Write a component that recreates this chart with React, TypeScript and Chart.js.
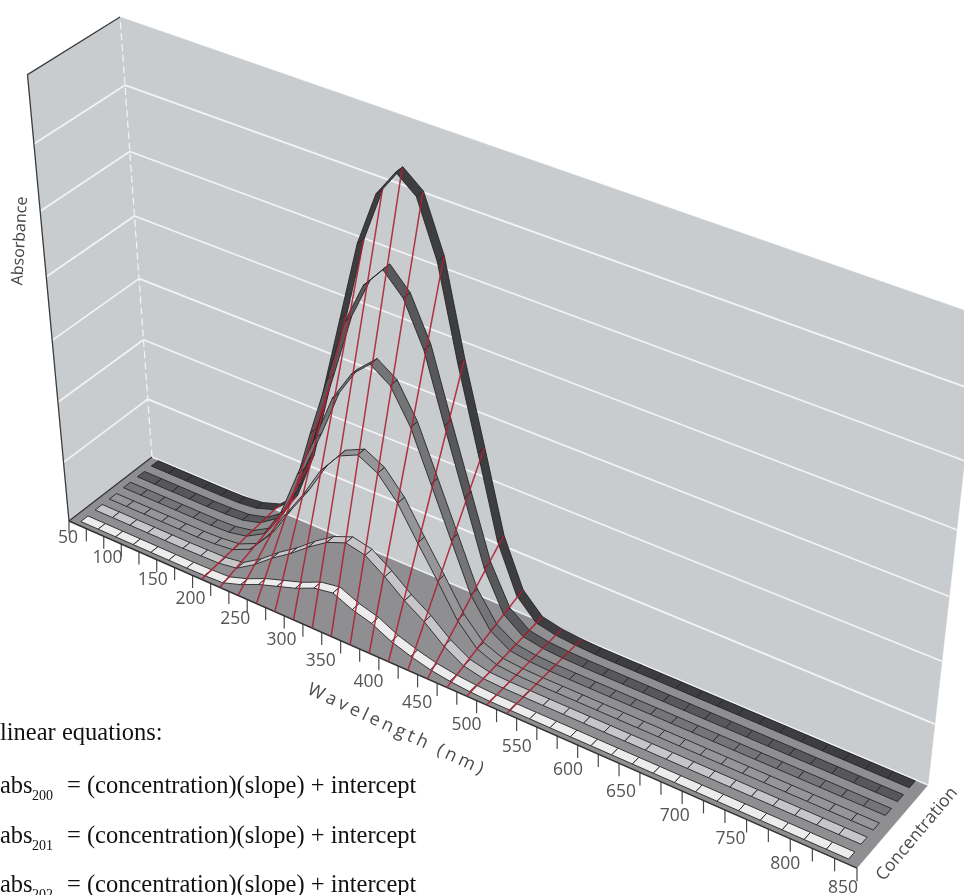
import React, { useEffect, useRef } from "react";
import { Chart, registerables } from "chart.js";

Chart.register(...registerables);

// ---------- data ----------
const wavelengths = [60,80,100,120,140,160,180,200,220,240,260,280,300,320,340,360,380,400,420,440,460,480,500,520,540,560,580,600,620,640,660,680,700,720,740,760,780,800,820,840];
const concentrations = [0.93,0.76,0.59,0.42,0.25,0.08];
const series6 = [.004,.004,.004,.004,.004,.005,.01,.025,.065,.18,.36,.54,.72,.84,.90,.865,.745,.54,.36,.175,.065,.02,.01,.006,.004,.004,.004,.004,.004,.004,.004,.004,.004,.004,.004,.004,.004,.004,.004,.004];
const series5 = [.004,.004,.004,.004,.004,.005,.008,.02,.05,.14,.29,.43,.575,.67,.72,.675,.58,.43,.285,.14,.05,.016,.008,.005,.004,.004,.004,.004,.004,.004,.004,.004,.004,.004,.004,.004,.004,.004,.004,.004];
const series4 = [.004,.004,.004,.004,.004,.004,.006,.015,.04,.11,.22,.32,.43,.50,.54,.51,.435,.325,.215,.105,.04,.012,.006,.004,.004,.004,.004,.004,.004,.004,.004,.004,.004,.004,.004,.004,.004,.004,.004,.004];
const series3 = [.003,.003,.003,.003,.003,.003,.005,.01,.03,.08,.15,.215,.29,.343,.3635,.34,.29,.217,.147,.074,.026,.008,.004,.003,.003,.003,.003,.003,.003,.003,.003,.003,.003,.003,.003,.003,.003,.003,.003,.003];
const series2 = [.003,.003,.003,.003,.003,.003,.004,.005,.012,.04,.075,.105,.14,.17,.188,.178,.147,.11,.08,.042,.015,.005,.003,.003,.003,.003,.003,.003,.003,.003,.003,.003,.003,.003,.003,.003,.003,.003,.003,.003];
const series1 = [.002,.002,.002,.002,.002,.002,.002,.003,.005,.02,.04,.055,.07,.09,.098,.078,.065,.042,.027,.015,.008,.004,.002,.002,.002,.002,.002,.002,.002,.002,.002,.002,.002,.002,.002,.002,.002,.002,.002,.002];
const allSeries = [series6,series5,series4,series3,series2,series1];
const regressionWavelengths = [200,220,240,260,280,300,320,340,360,380,400,420,440,460,480,500,520];
const tickLabels = [50,100,150,200,250,300,350,400,450,500,550,600,650,700,750,800,850];
const tickMarks = [50,70,90,110,130,150,170,190,210,230,250,270,290,310,330,350,370,390,410,430,450,470,490,510,530,550,570,590,610,630,650,670,690,710,730,750,770,790,810,830,850];
const gridLevels = [1/7,2/7,3/7,4/7,5/7,6/7];
const labelNudge = [-1,-5,-4,-11,-12,-12,-20,-20,-20,-20,-20,-20,-19,-18,-16,-16,-14];

// ---------- style / camera ----------
const WMIN = 50, WMAX = 850;
const CAMERA = [
  [682.4, 87.06, -44.1, 69],
  [240.1, -51.78, -453.4, 521],
  [-0.1232, 0.02674, -0.0938, 1],
];
const RIBBON_COLORS = ["#3e3e40","#58585a","#757577","#969698","#c6c6c8","#ececec"];
const RIBBON_DV = 0.085;
const SOLID: number[] = [3000, 0];

function project(w: number, c: number, a: number) {
  const u = (w - WMIN) / (WMAX - WMIN);
  const X = CAMERA[0][0]*u + CAMERA[0][1]*c + CAMERA[0][2]*a + CAMERA[0][3];
  const Y = CAMERA[1][0]*u + CAMERA[1][1]*c + CAMERA[1][2]*a + CAMERA[1][3];
  const W = CAMERA[2][0]*u + CAMERA[2][1]*c + CAMERA[2][2]*a + CAMERA[2][3];
  return { x: X / W, y: Y / W };
}

function line(pts: {x:number,y:number}[], color: string, width: number, dash: number[] = SOLID) {
  return { data: pts, showLine: true, borderColor: color, borderWidth: width, borderDash: dash, pointRadius: 0, fill: false, tension: 0, clip: false };
}
function polygon(pts: {x:number,y:number}[], fillColor: string, stroke: string, width: number) {
  return { ...line([...pts, pts[0]], stroke, width), polyFill: fillColor };
}

function buildDatasets() {
  const ds: any[] = [];
  // walls and floor
  ds.push(polygon([project(WMIN,1,0),project(WMAX,1,0),project(WMAX,1,1),project(WMIN,1,1)], "#c9ccce", "#c9ccce", 0.5));
  ds.push(polygon([project(WMIN,0,0),project(WMIN,1,0),project(WMIN,1,1),project(WMIN,0,1)], "#c9ccce", "#c9ccce", 0.5));
  ds.push(polygon([project(WMIN,0,0),project(WMAX,0,0),project(WMAX,1,0),project(WMIN,1,0)], "#8f8f91", "#8f8f91", 0.5));
  // gridlines
  for (const g of gridLevels) {
    ds.push(line([project(WMIN,1,g),project(WMAX,1,g)], "#f2f3f4", 1.7));
    ds.push(line([project(WMIN,0,g),project(WMIN,1,g)], "#f2f3f4", 1.7));
  }
  ds.push(line([project(WMIN,1,0),project(WMIN,1,1)], "#f4f4f4", 1.2, [7,4]));
  ds.push(line([project(WMIN,1,0),project(WMAX,1,0)], "#eef0f1", 1.6));
  // frame
  ds.push(line([project(WMIN,0,0),project(WMIN,0,1),project(WMIN,1,1)], "#3c3c3e", 1.3));
  ds.push(line([project(WMIN,0,0),project(WMIN,1,0)], "#333335", 1.2));
  // ticks: upright in the picture
  for (const t of tickMarks) {
    const top = project(t,0,0), low = project(t,0,-0.031);
    ds.push(line([top,{ x: top.x, y: low.y }], "#4a4a4c", 1.2));
  }
  ds.push(line([project(WMIN,0,0),project(WMAX,0,0)], "#333335", 1.4));
  // ribbons, back to front
  allSeries.forEach((s, k) => {
    const c = concentrations[k];
    for (let i = 0; i < wavelengths.length - 1; i++) {
      const w0 = wavelengths[i], w1 = wavelengths[i + 1];
      ds.push(polygon([
        project(w0, c - RIBBON_DV/2, s[i]),
        project(w1, c - RIBBON_DV/2, s[i+1]),
        project(w1, c + RIBBON_DV/2, s[i+1]),
        project(w0, c + RIBBON_DV/2, s[i]),
      ], RIBBON_COLORS[k], "#262628", 0.9));
    }
  });
  // regression lines
  for (const w of regressionWavelengths) {
    const a = series6[wavelengths.indexOf(w)];
    ds.push(line([project(w,0,0),project(w,0.965,a)], "rgba(172,34,52,0.9)", 1.5));
  }
  return ds.reverse(); // Chart.js paints the last dataset first
}

const polyPlugin = {
  id: "polyFill",
  beforeDatasetDraw(chart: any, args: any) {
    const ds = chart.data.datasets[args.index];
    if (!ds.polyFill) return;
    const pts = args.meta.data;
    const ctx = chart.ctx;
    ctx.save();
    ctx.beginPath();
    pts.forEach((p: any, i: number) => (i ? ctx.lineTo(p.x, p.y) : ctx.moveTo(p.x, p.y)));
    ctx.closePath();
    ctx.fillStyle = ds.polyFill;
    ctx.fill();
    ctx.restore();
  },
};

const labelPlugin = {
  id: "axisText",
  afterDatasetsDraw(chart: any) {
    const ctx = chart.ctx;
    const sx = chart.scales.x, sy = chart.scales.y;
    ctx.save();
    ctx.fillStyle = "#555557";
    ctx.font = '17.5px "Open Sans"';
    ctx.textAlign = "center";
    ctx.textBaseline = "middle";
    tickLabels.forEach((t, i) => {
      const p = project(t, 0, 0);
      const dy = i === 0 ? 17 : i === 1 ? 18 : 20;
      ctx.fillText(String(t), sx.getPixelForValue(p.x) + labelNudge[i], sy.getPixelForValue(p.y) + dy);
    });
    const rot = (text: string, x: number, y: number, deg: number, font: string, color: string, spacing = "0px") => {
      ctx.save();
      ctx.translate(x, y);
      ctx.rotate((deg * Math.PI) / 180);
      ctx.font = font;
      ctx.fillStyle = color;
      ctx.letterSpacing = spacing;
      ctx.fillText(text, 0, 0);
      ctx.restore();
    };
    rot("Absorbance", 20, 241, -87, '16px "Open Sans"', "#444446");
    rot("Concentration", 917, 834, -50, '17.5px "Open Sans"', "#4a4a4c");
    rot("Wavelength (nm)", 397, 730, 25, '18px "Open Sans"', "#4a4a4c", "3.6px");
    ctx.restore();
  },
};

const eqLines = [
  { sub: "200", base: 793 },
  { sub: "201", base: 843 },
  { sub: "202", base: 892 },
];
const serif: React.CSSProperties = {
  position: "absolute",
  fontFamily: '"Liberation Serif", serif',
  color: "#111",
  whiteSpace: "nowrap",
  lineHeight: "30px",
};

export default function App() {
  const ref = useRef<HTMLCanvasElement>(null);
  useEffect(() => {
    const chart = new Chart(ref.current as HTMLCanvasElement, {
      type: "scatter",
      data: { datasets: buildDatasets() },
      options: {
        animation: false,
        responsive: false,
        layout: { padding: 0 },
        plugins: { legend: { display: false }, tooltip: { enabled: false } },
        scales: {
          x: { type: "linear", min: 0, max: 964, display: false },
          y: { type: "linear", min: 0, max: 895, reverse: true, display: false },
        },
      },
      plugins: [polyPlugin, labelPlugin],
    } as any);
    return () => chart.destroy();
  }, []);
  return (
    <div style={{ position: "fixed", left: 0, top: 0, width: 964, height: 895, overflow: "hidden", background: "#fff" }}>
      <canvas ref={ref} width={964} height={895} style={{ position: "absolute", left: 0, top: 0, width: 964, height: 895, filter: "blur(0.45px)" }} />
      <div style={{ ...serif, left: 0, top: 740 - 23.3, fontSize: 24.5 }}>linear equations:</div>
      {eqLines.map((e) => (
        <React.Fragment key={e.sub}>
          <div style={{ ...serif, left: 0, top: e.base - 23.3, fontSize: 24.5 }}>abs</div>
          <div style={{ ...serif, left: 32, top: e.base + 8 - 19.7, fontSize: 14 }}>{e.sub}</div>
          <div style={{ ...serif, left: 67, top: e.base - 23.3, fontSize: 24.5 }}>= (concentration)(slope) + intercept</div>
        </React.Fragment>
      ))}
    </div>
  );
}
